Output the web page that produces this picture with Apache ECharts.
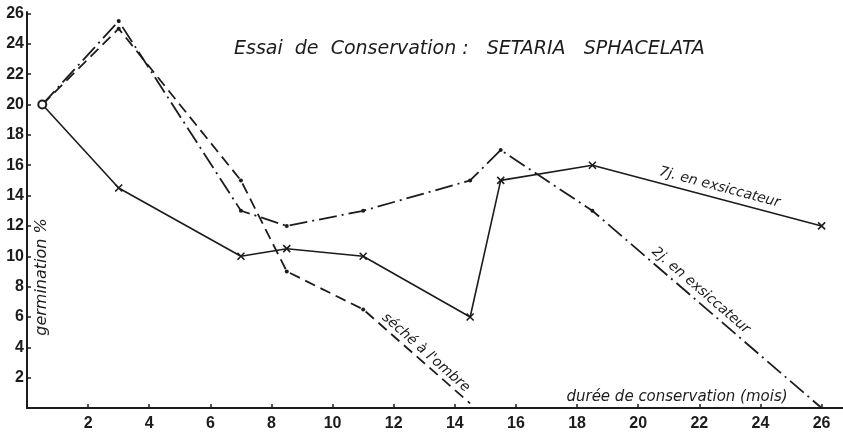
<!DOCTYPE html>
<html>
<head>
<meta charset="utf-8">
<script src="https://cdn.jsdelivr.net/npm/echarts@6/dist/echarts.min.js"></script>
<style>
  html, body { margin: 0; padding: 0; background: #fff; }
  #chart { width: 843px; height: 432px; }
</style>
</head>
<body>
<div id="chart"></div>
<script>
  // durée de conservation (mois) / germination %
  var months = [0.5, 3, 7, 8.5, 11, 14.5, 15.5, 18.5, 26];
  var germ7j = [20, 14.5, 10, 10.5, 10, 6, 15, 16, 12];
  var germ2j = [20, 25.5, 13, 12, 13, 15, 17, 13, 0];
  var monthsOmbre = [0.5, 3, 7, 8.5, 11, 14.5];
  var germOmbre = [20, 25, 15, 9, 6.5, 0.3];

  var xTicks = [2, 4, 6, 8, 10, 12, 14, 16, 18, 20, 22, 24, 26];
  var yTicks = [2, 4, 6, 8, 10, 12, 14, 16, 18, 20, 22, 24, 26];

  var ink = '#1c1c1c';
  var crossPath = 'path://M0,0L10,10M10,0L0,10';

  function pairs(xs, ys) {
    return xs.map(function (x, i) { return [x, ys[i]]; });
  }

  var chart = echarts.init(document.getElementById('chart'));

  chart.setOption({
    backgroundColor: '#fff',
    animation: false,
    title: {
      text: 'Essai  de  Conservation :   SETARIA   SPHACELATA',
      left: 229,
      top: 35,
      textStyle: {
        fontFamily: 'DejaVu Sans',
        fontStyle: 'italic',
        fontWeight: 'normal',
        fontSize: 19,
        color: ink
      }
    },
    grid: { left: 27, right: 0, top: 12, bottom: 23 },
    xAxis: {
      type: 'value',
      min: 0,
      max: 26.7,
      axisLine: { lineStyle: { color: ink, width: 2 } },
      axisTick: { inside: true, length: 4, customValues: xTicks, lineStyle: { color: ink, width: 1.5 } },
      axisLabel: {
        customValues: xTicks,
        margin: 8,
        color: ink,
        fontFamily: 'Liberation Sans',
        fontWeight: 'bold',
        fontSize: 16
      },
      splitLine: { show: false }
    },
    yAxis: {
      type: 'value',
      min: 0,
      max: 26.1,
      axisLine: { show: true, lineStyle: { color: ink, width: 2 } },
      axisTick: { show: true, inside: true, length: 4, customValues: yTicks, lineStyle: { color: ink, width: 1.5 } },
      axisLabel: {
        customValues: yTicks,
        margin: 3,
        color: ink,
        fontFamily: 'Liberation Sans',
        fontWeight: 'bold',
        fontSize: 16
      },
      splitLine: { show: false }
    },
    series: [
      {
        name: '7j. en exsiccateur',
        type: 'line',
        data: pairs(months, germ7j),
        symbol: function (v, p) { return p.dataIndex === 0 ? 'emptyCircle' : crossPath; },
        symbolSize: function (v) { return v[0] === months[0] ? 8 : 7; },
        itemStyle: { color: ink, borderColor: ink, borderWidth: 1.6 },
        lineStyle: { color: ink, width: 1.6, type: 'solid' },
        z: 3
      },
      {
        name: '2j. en exsiccateur',
        type: 'line',
        data: pairs(months, germ2j),
        symbol: function (v, p) {
          if (p.dataIndex === 0 || p.dataIndex === months.length - 1) return 'none';
          return 'circle';
        },
        symbolSize: 4,
        itemStyle: { color: ink },
        lineStyle: { color: ink, width: 1.8, type: [18, 5, 2, 5] }
      },
      {
        name: "séché à l'ombre",
        type: 'line',
        data: pairs(monthsOmbre, germOmbre),
        symbol: function (v, p) {
          if (p.dataIndex === 0 || p.dataIndex === monthsOmbre.length - 1) return 'none';
          return 'circle';
        },
        symbolSize: 4,
        itemStyle: { color: ink },
        lineStyle: { color: ink, width: 1.8, type: [11, 6] }
      }
    ]
  });

  // annotations written along the curves
  function px(pt) { return chart.convertToPixel({ gridIndex: 0 }, pt); }
  function along(text, a, b, at) {
    var pa = px(a), pb = px(b), p = px(at);
    var ang = Math.atan2(pb[1] - pa[1], pb[0] - pa[0]);
    return {
      type: 'text',
      x: p[0], y: p[1],
      rotation: -ang,
      style: {
        text: text,
        align: 'center',
        verticalAlign: 'bottom',
        fill: ink,
        font: 'italic 14px "DejaVu Sans"'
      }
    };
  }

  var g = [
    along('7j. en exsiccateur', [18.5, 16], [26, 12], [22.6, 14.1]),
    along('2j. en exsiccateur', [18.5, 13], [26, 0], [21.9, 7.4]),
    along("séché à l'ombre", [11, 6.5], [14.5, 0.3], [12.9, 3.3])
  ];
  g.push({
    type: 'text',
    x: 42, y: 277,
    rotation: Math.PI / 2,
    style: {
      text: 'germination %',
      align: 'center',
      verticalAlign: 'middle',
      fill: ink,
      font: 'italic 16px "DejaVu Sans"'
    }
  });
  g.push({
    type: 'text',
    x: 677, y: 397,
    style: {
      text: 'durée de conservation (mois)',
      align: 'center',
      verticalAlign: 'middle',
      fill: ink,
      font: 'italic 15px "DejaVu Sans"'
    }
  });
  chart.setOption({ graphic: g });
</script>
</body>
</html>
